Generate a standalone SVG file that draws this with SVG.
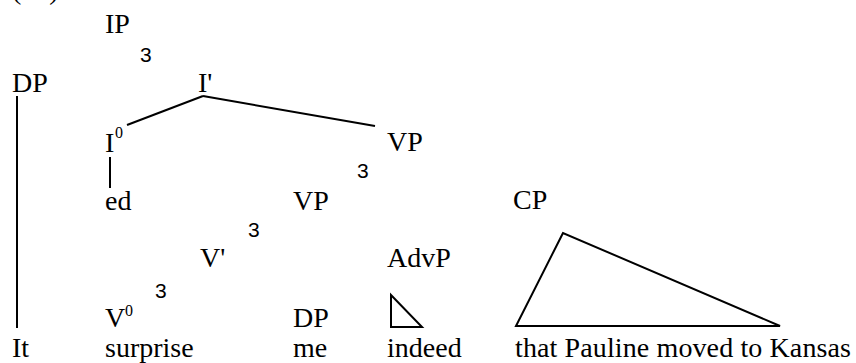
<svg xmlns="http://www.w3.org/2000/svg" width="856" height="363" viewBox="0 0 856 363">
  <style>
    .lbl { font-family: "Liberation Serif", "Times New Roman", serif; font-size: 28px; fill: #000; }
    .sup { font-family: "Liberation Serif", "Times New Roman", serif; font-size: 16px; fill: #000; }
    .tri { font-family: "Liberation Sans", Arial, sans-serif; font-size: 21px; fill: #000; }
    .edge { stroke: #000; stroke-width: 2; fill: none; }
  </style>
  <rect width="856" height="363" fill="#fff"/>

  <!-- example number, cut at the top edge -->
  <text class="lbl" x="12" y="-1">(15)</text>

  <!-- connectors -->
  <g id="connectors">
    <line class="edge" x1="17" y1="96" x2="17" y2="328"/>
    <line class="edge" x1="203" y1="96" x2="127" y2="125"/>
    <line class="edge" x1="203" y1="96" x2="375" y2="126"/>
    <line class="edge" x1="110" y1="157" x2="110" y2="188"/>
    <polygon class="edge" points="391,295 391,327 422,327"/>
    <polygon class="edge" points="563,233 516,326 780,326"/>
  </g>

  <!-- tree nodes -->
  <g id="node-IP"><text class="lbl" x="105" y="33">IP</text><text class="tri" x="140" y="62">3</text></g>
  <g id="node-DP-subj"><text class="lbl" x="12" y="92">DP</text></g>
  <g id="node-Ibar"><text class="lbl" x="198" y="92">I'</text></g>
  <g id="node-I0"><text class="lbl" x="105" y="152">I</text><text class="sup" x="115" y="138">0</text></g>
  <g id="node-VP-top"><text class="lbl" x="387" y="151">VP</text><text class="tri" x="357" y="178">3</text></g>
  <g id="node-ed"><text class="lbl" x="105" y="210">ed</text></g>
  <g id="node-VP-mid"><text class="lbl" x="293" y="210">VP</text><text class="tri" x="248" y="237">3</text></g>
  <g id="node-CP"><text class="lbl" x="513" y="209">CP</text></g>
  <g id="node-Vbar"><text class="lbl" x="200" y="267">V'</text><text class="tri" x="155" y="298">3</text></g>
  <g id="node-AdvP"><text class="lbl" x="387" y="267">AdvP</text></g>
  <g id="node-V0"><text class="lbl" x="105" y="327">V</text><text class="sup" x="125" y="316">0</text></g>
  <g id="node-DP-obj"><text class="lbl" x="293" y="327">DP</text></g>

  <!-- terminal words -->
  <g id="words">
    <text class="lbl" x="12" y="357">It</text>
    <text class="lbl" x="105" y="357">surprise</text>
    <text class="lbl" x="293" y="357">me</text>
    <text class="lbl" x="387" y="357">indeed</text>
    <text class="lbl" x="515" y="357" textLength="336" lengthAdjust="spacing">that Pauline moved to Kansas</text>
  </g>
</svg>
